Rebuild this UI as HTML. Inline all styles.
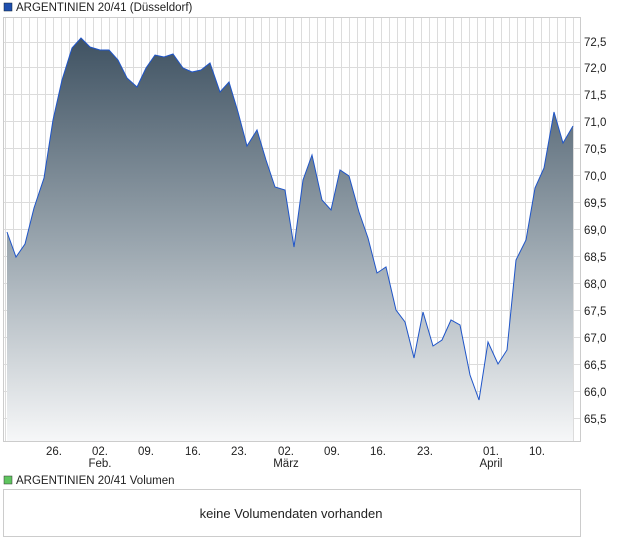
<!DOCTYPE html>
<html><head><style>
body{margin:0;background:#fff;font-family:"Liberation Sans",sans-serif;}
svg text{font-family:"Liberation Sans",sans-serif;font-size:11.5px;fill:#222;}
</style></head><body>
<svg width="620" height="546" xmlns="http://www.w3.org/2000/svg">
<defs>
<linearGradient id="g" x1="0" y1="0" x2="0" y2="1">
<stop offset="0" stop-color="#3f5262"/>
<stop offset="0.5" stop-color="#98a4ad"/>
<stop offset="1" stop-color="#f6f7f8"/>
</linearGradient>
<pattern id="vg" x="5" y="0" width="8" height="600" patternUnits="userSpaceOnUse">
<line x1="0.5" y1="0" x2="0.5" y2="600" stroke="#dcdcdc" stroke-width="1"/>
</pattern>
</defs>
<rect x="4" y="3" width="8" height="8" fill="#1f4fae" stroke="#123" stroke-width="0.5"/>
<text x="16" y="11">ARGENTINIEN 20/41 (Düsseldorf)</text>
<rect x="3.5" y="17.5" width="577" height="424" fill="#fff" stroke="#ccc"/>
<rect x="4" y="18" width="576" height="423" fill="url(#vg)"/>
<g stroke="#dcdcdc">
<line x1="4" x2="580" y1="42.5" y2="42.5"/><line x1="4" x2="580" y1="67.5" y2="67.5"/><line x1="4" x2="580" y1="94.5" y2="94.5"/><line x1="4" x2="580" y1="121.5" y2="121.5"/><line x1="4" x2="580" y1="148.5" y2="148.5"/><line x1="4" x2="580" y1="175.5" y2="175.5"/><line x1="4" x2="580" y1="202.5" y2="202.5"/><line x1="4" x2="580" y1="229.5" y2="229.5"/><line x1="4" x2="580" y1="256.5" y2="256.5"/><line x1="4" x2="580" y1="283.5" y2="283.5"/><line x1="4" x2="580" y1="310.5" y2="310.5"/><line x1="4" x2="580" y1="337.5" y2="337.5"/><line x1="4" x2="580" y1="364.5" y2="364.5"/><line x1="4" x2="580" y1="391.5" y2="391.5"/><line x1="4" x2="580" y1="418.5" y2="418.5"/>
</g>
<path d="M7,232 L16,257 L25,244 L34,208 L44,178 L53,120 L62,80 L72,48 L81,38 L90,47 L100,50 L109,50 L118,60 L127,78 L137,87 L146,68 L155,55 L164,57 L173,54 L183,68 L192,72 L201,70 L210,63 L220,92 L229,82 L238,112 L247,146 L257,130 L266,160 L275,187 L285,190 L294,247 L303,180 L312,155 L322,200 L331,210 L340,170 L349,176 L359,212 L368,238 L377,273 L386,267 L396,310 L405,322 L414,358 L423,312 L433,346 L442,340 L451,320 L460,325 L470,375 L479,400 L488,342 L498,364 L507,350 L516,260 L526,240 L535,188 L544,168 L554,112 L563,143 L573,126 L573,441 L7,441 Z" fill="url(#g)"/>
<path d="M7,232 L16,257 L25,244 L34,208 L44,178 L53,120 L62,80 L72,48 L81,38 L90,47 L100,50 L109,50 L118,60 L127,78 L137,87 L146,68 L155,55 L164,57 L173,54 L183,68 L192,72 L201,70 L210,63 L220,92 L229,82 L238,112 L247,146 L257,130 L266,160 L275,187 L285,190 L294,247 L303,180 L312,155 L322,200 L331,210 L340,170 L349,176 L359,212 L368,238 L377,273 L386,267 L396,310 L405,322 L414,358 L423,312 L433,346 L442,340 L451,320 L460,325 L470,375 L479,400 L488,342 L498,364 L507,350 L516,260 L526,240 L535,188 L544,168 L554,112 L563,143 L573,126" fill="none" stroke="#1f55c8" stroke-width="1"/>
<g>
<text x="584" y="46">72,5</text><text x="584" y="72">72,0</text><text x="584" y="99">71,5</text><text x="584" y="126">71,0</text><text x="584" y="153">70,5</text><text x="584" y="180">70,0</text><text x="584" y="207">69,5</text><text x="584" y="234">69,0</text><text x="584" y="261">68,5</text><text x="584" y="288">68,0</text><text x="584" y="315">67,5</text><text x="584" y="342">67,0</text><text x="584" y="369">66,5</text><text x="584" y="396">66,0</text><text x="584" y="423">65,5</text>
</g>
<g text-anchor="middle">
<text x="54" y="455">26.</text><text x="100" y="455">02.</text><text x="146" y="455">09.</text><text x="193" y="455">16.</text><text x="239" y="455">23.</text><text x="286" y="455">02.</text><text x="332" y="455">09.</text><text x="378" y="455">16.</text><text x="425" y="455">23.</text><text x="491" y="455">01.</text><text x="537" y="455">10.</text>
<text x="100" y="467">Feb.</text><text x="286" y="467">März</text><text x="491" y="467">April</text>
</g>
<rect x="4" y="476" width="8" height="8" fill="#5fc55f" stroke="#333" stroke-width="0.5"/>
<text x="16" y="484">ARGENTINIEN 20/41 Volumen</text>
<rect x="3.5" y="489.5" width="577" height="47" fill="#fff" stroke="#ccc"/>
<text x="291" y="518" text-anchor="middle" style="font-size:13px">keine Volumendaten vorhanden</text>
</svg>
</body></html>
